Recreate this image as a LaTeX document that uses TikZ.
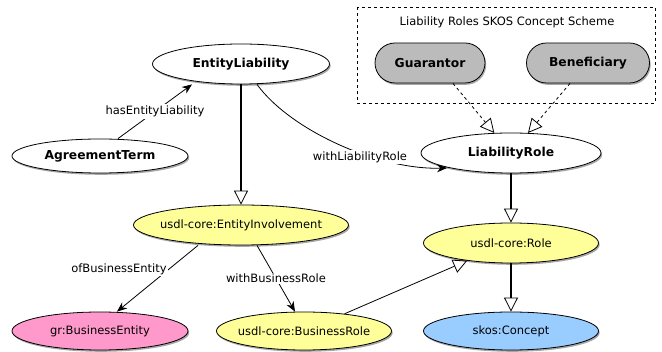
\documentclass[tikz,border=0pt]{standalone}
\usepackage{fontspec}
\setmainfont{DejaVu Sans}
\usetikzlibrary{arrows.meta,shadows,shapes.geometric}
\definecolor{yel}{HTML}{FFFF99}
\definecolor{pnk}{HTML}{FF99CC}
\definecolor{blu}{HTML}{99CCFF}
\definecolor{gry}{HTML}{BBBBBB}
\newcommand{\zb}[1]{\makebox[0pt]{#1}}
\tikzset{
  shad/.style={drop shadow={shadow xshift=1.2pt, shadow yshift=-1.8pt, fill=black, opacity=0.35}},
  cls/.style={ellipse, draw, line width=0.8pt, minimum width=#1, inner sep=0pt, shad,
    font=\fontsize{11.5}{13}\selectfont},
  bcls/.style={cls=#1, fill=white, font=\fontsize{12.3}{14}\selectfont\bfseries},
  concept/.style={rounded corners=20pt, draw, line width=0.8pt, fill=gry, minimum width=#1,
    minimum height=40pt, inner sep=0pt, shad, font=\fontsize{12.3}{14}\selectfont\bfseries},
  lbl/.style={fill=white, inner sep=1.5pt, font=\fontsize{11.5}{13}\selectfont},
  subcls/.style={line width=2pt, -{Triangle[open, length=14pt, width=14pt, line width=0.8pt]}},
  subthin/.style={line width=0.8pt, -{Triangle[open, length=14pt, width=14pt, line width=0.8pt]}},
  inst/.style={dashed, line width=0.8pt, -{Triangle[open, length=14pt, width=14pt, line width=0.8pt]}},
  prop/.style={line width=0.8pt, -{Stealth[length=10pt, width=8pt]}},
}
\begin{document}
\begin{tikzpicture}[x=1pt, y=-1pt]
\useasboundingbox (0,0) rectangle (662,352);
% concept scheme box
\draw[dashed, line width=0.8pt] (357,7) rectangle (655,103);
\node[font=\fontsize{11.5}{13}\selectfont] (title) at (507,22) {Liability Roles SKOS Concept Scheme};
\node[concept=110pt] (G) at (430,63) {\zb{Guarantor}};
\node[concept=123pt] (B) at (588,63) {\zb{Beneficiary}};
% classes
\node[bcls=177pt, minimum height=40pt] (EL) at (241,64) {\zb{EntityLiability}};
\node[bcls=176pt, minimum height=34pt] (AT) at (100,156) {\zb{AgreementTerm}};
\node[bcls=180pt, minimum height=40pt] (LR) at (511,153) {\zb{LiabilityRole}};
\node[cls=215pt, minimum height=40pt, fill=yel] (EI) at (241,225) {\zb{usdl-core:EntityInvolvement}};
\node[cls=176pt, minimum height=38pt, fill=pnk] (BE) at (100,331) {\zb{gr:BusinessEntity}};
\node[cls=175pt, minimum height=38pt, fill=yel] (BR) at (304,331) {\zb{usdl-core:BusinessRole}};
\node[cls=175pt, minimum height=40pt, fill=yel] (RO) at (511,243) {\zb{usdl-core:Role}};
\node[cls=175pt, minimum height=38pt, fill=blu] (SC) at (511,331) {\zb{skos:Concept}};
% subclass edges
\draw[subcls] (EL.south) -- (EI.north);
\draw[subcls] (LR.south) -- (RO.north);
\draw[subcls] (RO.south) -- (SC.north);
\draw[subthin] (BR.23) -- (RO.202.6);
% instance edges
\draw[inst] ([xshift=23pt]G.south) -- (LR);
\draw[inst] ([xshift=-18pt]B.south) -- (LR);
% properties
\draw[prop] ([xshift=18pt]AT.north) -- ([xshift=-49pt]EL.south)
  node[lbl, pos=0.5] (l1) {hasEntityLiability};
\draw[prop] ([xshift=16pt]EL.south) .. controls (290,130) and (378,170) .. (447,168);
\node[lbl] (l2) at (360,157) {withLiabilityRole};
\draw[prop] ([xshift=-43pt]EI.south) -- ([xshift=17pt]BE.north);
\node[lbl] (l3) at (119,269) {ofBusinessEntity};
\draw[prop] ([xshift=16pt]EI.south) -- ([xshift=-9pt]BR.north)
  node[lbl, pos=0.5] (l4) {withBusinessRole};
\end{tikzpicture}
\end{document}
